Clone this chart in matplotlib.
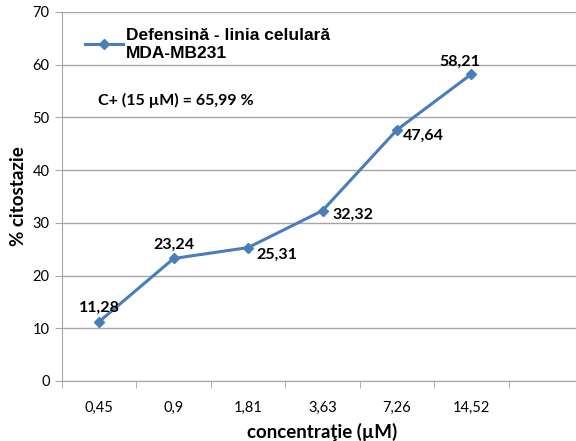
import matplotlib
matplotlib.use("Agg")
import matplotlib.pyplot as plt

# concentrations (µM) and cytostasis (%)
concentrations = ["0,45", "0,9", "1,81", "3,63", "7,26", "14,52"]
cytostasis = [11.28, 23.24, 25.31, 32.32, 47.64, 58.21]
series_name = "Defensină - linia celulară\nMDA-MB231"
control_note = "C+ (15 µM) = 65,99 %"

blue = "#4A7EBB"
grid_gray = "#A6A6A6"
calibri_like = ["Lato", "DejaVu Sans"]

fig = plt.figure(figsize=(5.76, 4.41), dpi=100)
ax = fig.add_axes([62 / 576, 1 - 381 / 441, 521 / 576, 369 / 441])

x = list(range(len(concentrations)))
ax.plot(x, cytostasis, color=blue, lw=2.2, marker="D", ms=5,
        mec=blue, mfc=blue, label=series_name)

# value labels, placed around each point like the spreadsheet did
offsets = [(0, 10, "center", "center"), (0, 10, "center", "center"),
           (6, -5, "left", "center"), (7, -3, "left", "center"),
           (4, -4, "left", "center"), (-8, 9, "center", "center")]
for xi, v, (dx, dy, ha, va) in zip(x, cytostasis, offsets):
    ax.annotate(f"{v:.2f}".replace(".", ","), (xi, v), xytext=(dx, dy),
                textcoords="offset points", ha=ha, va=va,
                fontsize=11.5, fontweight="bold", family=calibri_like)

ax.set_ylim(0, 70)
ax.set_xlim(-0.5, 6.5)
ax.set_yticks(range(0, 71, 10))
ax.yaxis.grid(True, color=grid_gray, lw=1)
ax.set_axisbelow(True)

ax.set_xticks(x)
ax.set_xticklabels(concentrations)
ax.set_xticks([i - 0.5 for i in range(8)], minor=True)
ax.tick_params(axis="x", which="major", length=0, pad=14)
ax.tick_params(axis="x", which="minor", length=5, color=grid_gray)
ax.tick_params(axis="y", length=5, color=grid_gray, pad=4)
for lab in ax.get_xticklabels() + ax.get_yticklabels():
    lab.set_family(calibri_like)
    lab.set_fontsize(10.5)

for side in ("top", "right"):
    ax.spines[side].set_visible(False)
for side in ("left", "bottom"):
    ax.spines[side].set_color(grid_gray)

ax.set_ylabel("% citostazie", fontsize=13.5, fontweight="bold",
              family=calibri_like, labelpad=4)
ax.set_xlabel("concentraţie (µM)", fontsize=13.5, fontweight="bold",
              family=calibri_like, labelpad=6)

leg = ax.legend(loc="upper left", bbox_to_anchor=(0.03, 0.975), frameon=False,
                handlelength=2.2, handletextpad=0.2, borderaxespad=0,
                prop={"family": "Liberation Sans", "weight": "bold", "size": 12.5})

fig.text(98 / 576, 1 - 100 / 441, control_note, fontsize=11.5,
         fontweight="bold", family=calibri_like, va="center")

fig.savefig("out.png", dpi=100)
